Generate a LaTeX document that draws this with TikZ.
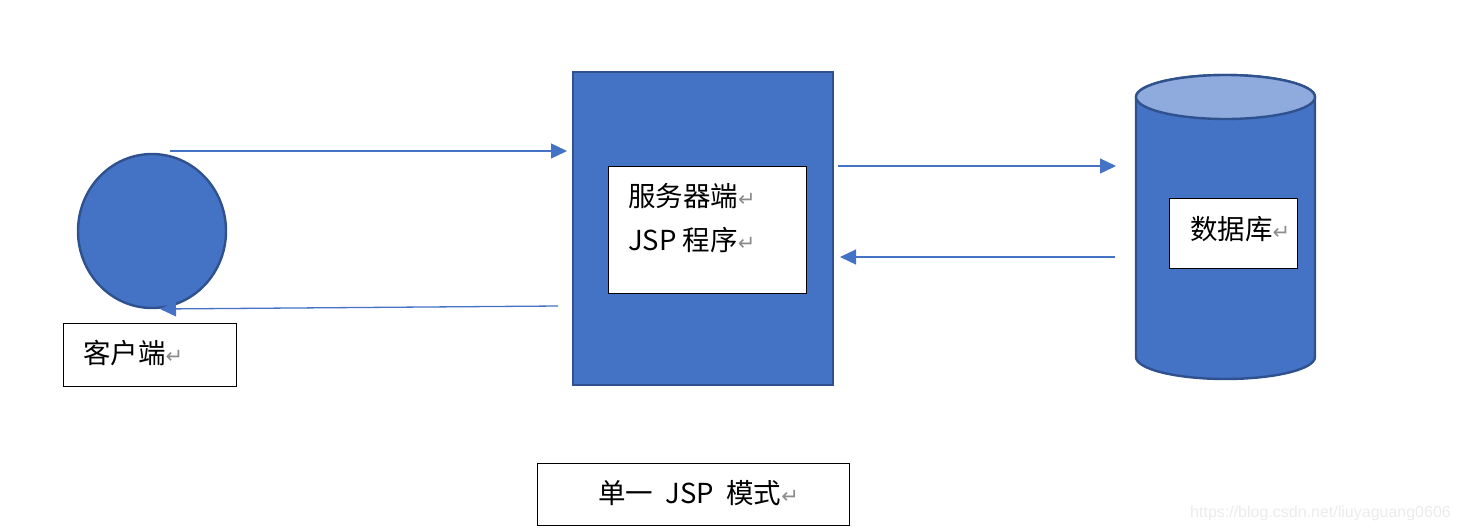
\documentclass[tikz,border=0pt]{standalone}
\usepackage{fontspec}
\newfontfamily\cjk{Noto Sans CJK SC}
\newfontfamily\dv{DejaVu Sans}
\newfontfamily\wm{Liberation Sans}
\usetikzlibrary{arrows.meta,shapes.geometric}
\definecolor{blueA}{HTML}{4472C4}
\definecolor{blueB}{HTML}{2F528F}
\definecolor{blueT}{HTML}{8FAADC}
\newcommand{\rt}{{\color{black!45}\dv\fontsize{21}{21}\selectfont ↵}}
\tikzset{
  solid shape/.style={fill=blueA, draw=blueB, line width=2.4pt},
  label box/.style={draw=black, fill=white, line width=1pt, inner sep=0pt, anchor=north west},
  cjktext/.style={font=\cjk\fontsize{27.5}{27.5}\selectfont, anchor=west, inner sep=0pt},
  arr/.style={draw=blueA, line width=1.3pt, -{Triangle[length=16pt,width=15pt]}},
}
\begin{document}
\begin{tikzpicture}[x=1pt,y=-1pt]
\useasboundingbox (0,0) rectangle (1459,531);
% client circle
\node[solid shape, ellipse, minimum width=148pt, minimum height=154pt, inner sep=0pt] (client) at (152,231) {};
\node[label box, minimum width=173pt, minimum height=63pt] (clientbox) at (63,323) {};
\node[cjktext] (clienttext) at (83,353) {客户端\rt};
% server
\node[solid shape, rectangle, minimum width=260pt, minimum height=313pt, inner sep=0pt, anchor=north west] (server) at (572,71) {};
\node[label box, minimum width=198pt, minimum height=127pt] (serverbox) at (608,166) {};
\node[cjktext] (servertext1) at (628,196) {服务器端\rt};
\node[cjktext] (servertext2) at (628,240) {JSP 程序\rt};
% database cylinder
\path[solid shape] (1136,97) -- (1136,357) arc[start angle=180, end angle=0, x radius=89.5, y radius=22] -- (1315,97) arc[start angle=0, end angle=-180, x radius=89.5, y radius=22] -- cycle;
\path[fill=blueT, draw=blueB, line width=2.4pt] (1225.5,97) ellipse[x radius=89.5, y radius=22];
\coordinate (db) at (1225.5,228);
\node[label box, minimum width=128pt, minimum height=70pt] (dbbox) at (1169,198) {};
\node[cjktext] (dbtext) at (1190,229) {数据库\rt};
% title
\node[label box, minimum width=312pt, minimum height=62pt] (titlebox) at (537,463) {};
\node[cjktext] (titletext) at (598,493) {单一~~JSP~~模式\rt};
% connector end points
\coordinate (c1s) at (170,151);
\coordinate (c1e) at (567,151);
\coordinate (c2s) at (558,306);
\coordinate (c2e) at (160,309);
\coordinate (c3s) at (838,166);
\coordinate (c3e) at (1116,166);
\coordinate (c4s) at (1115,257);
\coordinate (c4e) at (840,257);
\draw[arr] (c1s) -- (c1e);
\draw[arr] (c2s) -- (c2e);
\draw[arr] (c3s) -- (c3e);
\draw[arr] (c4s) -- (c4e);
% watermark
\node[font=\wm\fontsize{16}{16}\selectfont, text=black!8, anchor=west, inner sep=0pt] (watermark) at (1190,513) {https://blog.csdn.net/liuyaguang0606};
\end{tikzpicture}
\end{document}
